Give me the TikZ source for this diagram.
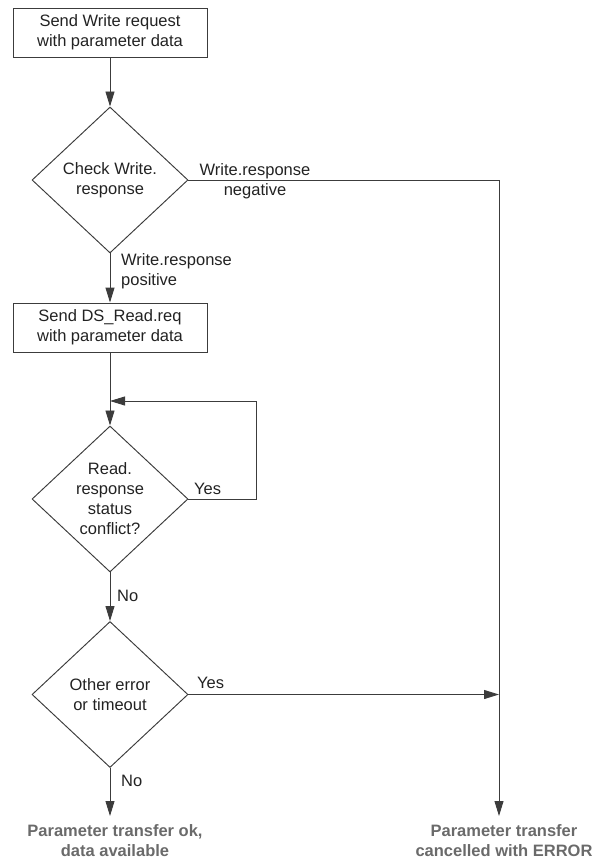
\documentclass[tikz,border=0pt]{standalone}
\usepackage{fontspec}
\setmainfont{Liberation Sans}
\usetikzlibrary{shapes.geometric,arrows.meta}
\definecolor{linec}{HTML}{3C3C3C}
\definecolor{txtc}{HTML}{222222}
\definecolor{endc}{HTML}{6A6A6A}
\tikzset{
  every node/.style={text=txtc},
  procbox/.style={draw=linec, line width=0.95pt, rectangle, minimum width=194pt, minimum height=49pt, inner sep=0pt, align=center, font=\fontsize{16.5}{20}\selectfont},
  decision/.style={draw=linec, line width=0.95pt, diamond, minimum width=156pt, minimum height=146pt, inner sep=0pt, align=center, font=\fontsize{16.5}{20}\selectfont},
  lbl/.style={inner sep=0pt, align=center, font=\fontsize{16.5}{20}\selectfont},
  endlbl/.style={inner sep=0pt, align=center, text=endc, font=\bfseries\fontsize{16.5}{20}\selectfont},
  conn/.style={draw=linec, line width=0.95pt},
  arr/.style={conn, -{Triangle[length=15pt,width=9pt]}},
}
\begin{document}
\begin{tikzpicture}[x=1pt,y=-1pt]
\useasboundingbox (0,0) rectangle (598,860);
\node[procbox] (box1) at (110,32.5) {Send Write request\\with parameter data};
\node[decision] (d1) at (110,180) {Check Write.\\response};
\node[procbox] (box2) at (110,327.5) {Send DS\_Read.req\\with parameter data};
\node[decision] (d2) at (110,499) {Read.\\response\\status\\conflict?};
\node[decision] (d3) at (110,694.5) {Other error\\or timeout};
\coordinate (okend) at (110,816);
\coordinate (errcorner) at (499,180);
\coordinate (errend) at (499,816);
\coordinate (yesjoin) at (499,694.5);
\coordinate (loopr) at (256,499);
\coordinate (loopin) at (110,401);
\node[endlbl] (okt) at (115,840.5) {Parameter transfer ok,\\data available};
\node[endlbl] (errt) at (504,840.5) {Parameter transfer\\cancelled with ERROR};
\node[lbl] (negl) at (255,181) {Write.response\\negative};
\node[lbl, anchor=west, align=left] (posl) at (121,271.5) {Write.response\\positive};
\node[lbl, anchor=west] (yes1) at (194,489) {Yes};
\node[lbl, anchor=west] (no1) at (117,596) {No};
\node[lbl, anchor=west] (yes2) at (197,683) {Yes};
\node[lbl, anchor=west] (no2) at (121,781) {No};
\draw[arr] (box1) -- (d1);
\draw[arr] (d1) -- (box2);
\draw[arr] (box2) -- (d2);
\draw[arr] (d2.east) -- (loopr) |- (loopin);
\draw[arr] (d2) -- (d3);
\draw[arr] (d3) -- (okend);
\draw[arr] (d1.east) -- (errcorner) -- (errend);
\draw[arr] (d3.east) -- (yesjoin);
\end{tikzpicture}
\end{document}
